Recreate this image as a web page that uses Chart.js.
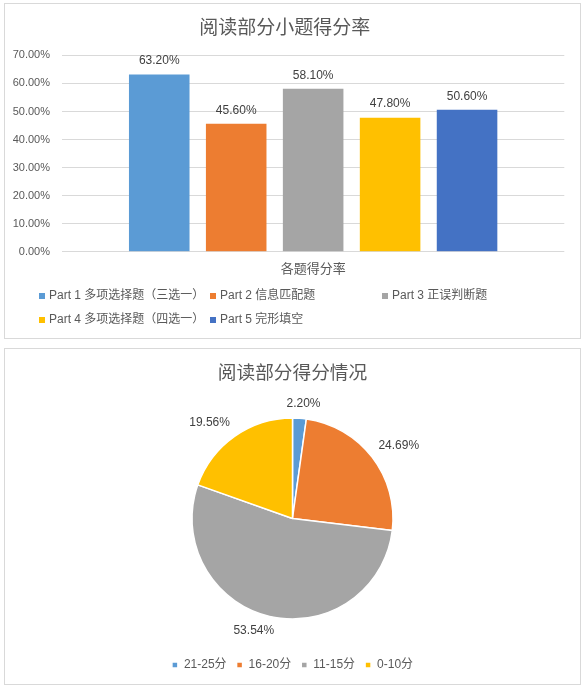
<!DOCTYPE html>
<html>
<head>
<meta charset="utf-8">
<script src="https://cdn.jsdelivr.net/npm/chart.js@4.4.1/dist/chart.umd.min.js"></script>
<style>
  html, body { margin: 0; padding: 0; background: #fff; }
  body { width: 588px; height: 688px; position: relative; overflow: hidden; }
  .box { position: absolute; left: 4px; width: 577px; border: 1px solid #d9d9d9; box-sizing: border-box; background: #fff; }
  #box-bar { top: 3px; height: 336px; }
  #box-pie { top: 348px; height: 337px; }
  .box canvas { display: block; }
</style>
</head>
<body>
<div class="box" id="box-bar"><canvas id="chart-bar" width="575" height="334"></canvas></div>
<div class="box" id="box-pie"><canvas id="chart-pie" width="575" height="335"></canvas></div>
<script>
// ---- data ----
const barTitle = '阅读部分小题得分率';
const barCategories = ['各题得分率'];
const barSeries = ['Part 1 多项选择题（三选一）', 'Part 2 信息匹配题', 'Part 3 正误判断题', 'Part 4 多项选择题（四选一）', 'Part 5 完形填空'];
const barValues = [63.2, 45.6, 58.1, 47.8, 50.6];
const barColors = ['#5B9BD5', '#ED7D31', '#A5A5A5', '#FFC000', '#4472C4'];
const yTicks = [0, 10, 20, 30, 40, 50, 60, 70];

const pieTitle = '阅读部分得分情况';
const pieLabels = ['21-25分', '16-20分', '11-15分', '0-10分'];
const pieValues = [2.20, 24.69, 53.54, 19.56];
const pieColors = ['#5B9BD5', '#ED7D31', '#A5A5A5', '#FFC000'];

const FONT = '"Liberation Sans", "Noto Sans CJK SC", sans-serif';
const TXT = '#595959';
const LBL = '#404040';
const pct = v => Number(v).toFixed(2) + '%';

Chart.defaults.font.family = FONT;
Chart.defaults.color = TXT;
Chart.defaults.animation = false;
Chart.defaults.responsive = false;

// value labels above bars
const barValueLabels = {
  id: 'barValueLabels',
  afterDatasetsDraw(chart) {
    const ctx = chart.ctx;
    ctx.save();
    ctx.font = '12px ' + FONT;
    ctx.fillStyle = LBL;
    ctx.textAlign = 'center';
    ctx.textBaseline = 'middle';
    chart.data.datasets.forEach((ds, i) => {
      chart.getDatasetMeta(i).data.forEach((bar, j) => {
        ctx.fillText(pct(ds.data[j]), bar.x, bar.y - 13.5);
      });
    });
    ctx.restore();
  }
};

// Excel-like grid legend under the bar chart
const gridLegend = {
  id: 'gridLegend',
  afterDraw(chart, args, opts) {
    const ctx = chart.ctx;
    ctx.save();
    ctx.font = '12px ' + FONT;
    ctx.textBaseline = 'middle';
    ctx.textAlign = 'left';
    chart.data.datasets.forEach((ds, i) => {
      const row = Math.floor(i / opts.perRow);
      const col = i % opts.perRow;
      const x = opts.cols[col];
      const y = opts.rows[row];
      ctx.fillStyle = ds.backgroundColor;
      ctx.fillRect(x, y - 3, 6, 6);
      ctx.fillStyle = TXT;
      ctx.fillText(ds.label, x + 10, y);
    });
    ctx.restore();
  }
};

new Chart(document.getElementById('chart-bar'), {
  type: 'bar',
  data: {
    labels: barCategories,
    datasets: barSeries.map((name, i) => ({
      label: name,
      data: [barValues[i]],
      backgroundColor: barColors[i],
      borderWidth: 0,
      categoryPercentage: 0.766,
      barPercentage: 0.787
    }))
  },
  options: {
    layout: { padding: { left: 0, right: 15.7, top: 0, bottom: 56.3 } },
    plugins: {
      legend: { display: false },
      tooltip: { enabled: false },
      title: {
        display: true,
        text: barTitle,
        color: TXT,
        font: { size: 19, weight: 'normal', family: FONT },
        padding: { top: 13, bottom: 15.6 }
      },
      gridLegend: { perRow: 3, cols: [34, 205, 377], rows: [292, 316] }
    },
    scales: {
      x: {
        grid: { display: false },
        border: { display: false },
        ticks: { color: TXT, font: { size: 13 }, padding: 2 },
        afterFit: s => { s.height = 30; }
      },
      y: {
        min: 0,
        max: 70,
        afterBuildTicks: s => { s.ticks = yTicks.map(v => ({ value: v })); },
        grid: { color: '#d9d9d9', drawTicks: false },
        border: { display: false },
        ticks: { color: TXT, font: { size: 11 }, padding: 12, callback: v => pct(v) },
        afterFit: s => { s.width = 57; }
      }
    }
  },
  plugins: [barValueLabels, gridLegend]
});

// percentage labels outside the slices
const pieOutsideLabels = {
  id: 'pieOutsideLabels',
  afterDatasetsDraw(chart) {
    const ctx = chart.ctx;
    const ds = chart.data.datasets[0];
    const clamp = v => Math.max(-1, Math.min(1, v));
    ctx.save();
    ctx.font = '12px ' + FONT;
    ctx.fillStyle = LBL;
    ctx.textAlign = 'center';
    ctx.textBaseline = 'middle';
    chart.getDatasetMeta(0).data.forEach((arc, i) => {
      const { x, y, startAngle, endAngle, outerRadius } = arc.getProps(['x', 'y', 'startAngle', 'endAngle', 'outerRadius'], true);
      const mid = (startAngle + endAngle) / 2;
      const dx = Math.cos(mid), dy = Math.sin(mid);
      const R = outerRadius + 8;
      const text = pct(ds.data[i]);
      const w = ctx.measureText(text).width;
      const h = 14;
      const cx = x + dx * R + (w / 2) * clamp(dx * 3);
      const cy = y + dy * R + (h / 2) * clamp(dy * 3);
      ctx.fillText(text, cx, cy);
    });
    ctx.restore();
  }
};

new Chart(document.getElementById('chart-pie'), {
  type: 'pie',
  data: {
    labels: pieLabels,
    datasets: [{
      data: pieValues,
      backgroundColor: pieColors,
      borderColor: '#ffffff',
      borderWidth: 1.5,
      hoverOffset: 0,
      radius: 100.5
    }]
  },
  options: {
    layout: { padding: { left: 0, right: 0, top: 0, bottom: 3 } },
    plugins: {
      tooltip: { enabled: false },
      title: {
        display: true,
        text: pieTitle,
        color: TXT,
        font: { size: 18.7, weight: 'normal', family: FONT },
        padding: { top: 13.8, bottom: 2.8 }
      },
      legend: {
        position: 'bottom',
        labels: {
          color: TXT,
          font: { size: 12 },
          boxWidth: 6,
          boxHeight: 6,
          padding: 10
        }
      }
    }
  },
  plugins: [pieOutsideLabels]
});
</script>
</body>
</html>
